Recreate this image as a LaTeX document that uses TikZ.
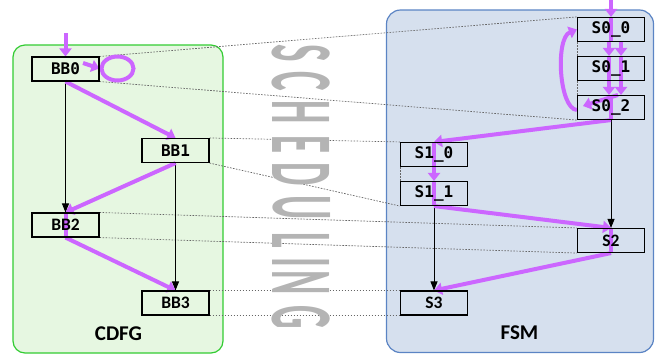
\documentclass[tikz,border=0pt]{standalone}
\usepackage{fontspec}
\setmainfont{Carlito}
\newfontfamily\monof{DejaVu Sans Mono}
\usetikzlibrary{arrows.meta,shapes.geometric}
\definecolor{mag}{HTML}{CC66FF}
\definecolor{cdfgfill}{HTML}{E6F7E1}
\definecolor{cdfgline}{HTML}{33CC33}
\definecolor{fsmfill}{HTML}{D6E0EE}
\definecolor{fsmline}{HTML}{5B84C4}
\definecolor{schedgray}{HTML}{B4B4B4}
\pgfdeclarelayer{bg}
\pgfdeclarelayer{mid}
\pgfsetlayers{bg,mid,main}
\begin{document}
\begin{tikzpicture}[x=1pt,y=-1pt,
  blk/.style={draw=black, line width=1.1pt, minimum width=67pt, minimum height=24pt, inner sep=0pt,
    font=\monof\bfseries\fontsize{16}{16}\selectfont},
  blks/.style={blk, font=\bfseries\fontsize{17.5}{17.5}\selectfont},
  ctl/.style={draw=black, line width=0.9pt, -{Triangle[length=9pt,width=7pt]}},
  flow/.style={draw=mag, line width=4pt, -{Triangle[length=8pt,width=12pt]}},
  flowline/.style={draw=mag, line width=4pt},
  map/.style={draw=black!60, line width=0.7pt, dash pattern=on 1.6pt off 1.4pt},
  letter/.style={text=schedgray, rotate=-90, inner sep=0pt, font=\bfseries\fontsize{88}{88}\selectfont},
  title/.style={font=\bfseries\fontsize{21}{21}\selectfont}]
\useasboundingbox (0,0) rectangle (660,360);

\begin{pgfonlayer}{bg}
\draw[fill=cdfgfill, draw=cdfgline, line width=1.2pt, rounded corners=12pt] (13,45) rectangle (223,353);
\draw[fill=fsmfill, draw=fsmline, line width=1.2pt, rounded corners=14pt] (386.5,10) rectangle (653.5,352.5);
\end{pgfonlayer}

% SCHEDULING
\node[letter] (l1) at (301.5,53) {\scalebox{0.42}[1]{S}};
\node[letter] (l2) at (301.5,81.5) {\scalebox{0.42}[1]{C}};
\node[letter] (l3) at (301.5,112) {\scalebox{0.42}[1]{H}};
\node[letter] (l4) at (301.5,144.5) {\scalebox{0.42}[1]{E}};
\node[letter] (l5) at (301.5,174) {\scalebox{0.42}[1]{D}};
\node[letter] (l6) at (301.5,207.5) {\scalebox{0.42}[1]{U}};
\node[letter] (l7) at (301.5,240.5) {\scalebox{0.42}[1]{L}};
\node[letter] (l8) at (301.5,262.5) {\scalebox{0.42}[1]{I}};
\node[letter] (l9) at (301.5,283) {\scalebox{0.42}[1]{N}};
\node[letter] (l10) at (301.5,317) {\scalebox{0.42}[1]{G}};

% nodes
\node[blk] (bb0) at (65.5,69) {BB0};
\node[blk] (bb1) at (175.5,150.5) {BB1};
\node[blks] (bb2) at (65.5,225) {BB2};
\node[blks] (bb3) at (175.5,303) {BB3};
\node[blk] (s00) at (611,29.5) {S0\_0};
\node[blk] (s01) at (611,68.5) {S0\_1};
\node[blk] (s02) at (611,107.5) {S0\_2};
\node[blk] (s10) at (434,154.5) {S1\_0};
\node[blk] (s11) at (434,193.5) {S1\_1};
\node[blks] (s2) at (611,240.5) {S2};
\node[blks] (s3) at (434,303) {S3};

\node[title] (cdfg) at (118.5,333.5) {CDFG};
\node[title] (fsm) at (519.5,333) {FSM};

\begin{pgfonlayer}{mid}
% mapping lines
\draw[map] (bb0.north east) -- (s00.north west);
\draw[map] (bb0.south east) -- (s02.south west);
\draw[map] (s00.south west) -- (s02.north west);
\draw[map] (bb1.north east) -- (s10.north west);
\draw[map] (bb1.south east) -- (s11.south west);
\draw[map] (s10.south west) -- (s11.north west);
\draw[map] (bb2.north east) -- (s2.north west);
\draw[map] (bb2.south east) -- (s2.south west);
\draw[map] (bb3.north east) -- (s3.north west);
\draw[map] (bb3.south east) -- (s3.south west);

% control edges
\draw[ctl] (bb0.south) -- (bb2.north);
\draw[ctl] (bb1.south) -- (bb3.north);
\draw[ctl] (s11.south) -- (s3.north);
\draw[ctl] (s02.south) -- (s2.north);

% CDFG flow
\coordinate (in1) at (65.5,33);
\draw[flow] (in1) -- (bb0.north);
\node[draw=mag, line width=4pt, ellipse, minimum width=32pt, minimum height=24pt, inner sep=0pt] (loop) at (117.5,68.5) {};
\coordinate (lp0) at (83,63);
\draw[flow] (lp0) -- (loop.west);
\draw[flow] (bb0.south) -- (bb1.north);
\draw[flow] (bb1.south) -- (bb2.north);
\draw[flowline] (bb2.north) -- (bb2.south);
\draw[flow] (bb2.south) -- (bb3.north);

% FSM flow
\coordinate (in2) at (611,0);
\draw[flow] (in2) -- (s00.north);
\draw[flowline] (s00.north) -- (s00.south);
\draw[flow] ([xshift=-2pt]s00.south) -- ([xshift=-2pt]s01.north);
\draw[flow] ([xshift=10pt]s00.south) -- ([xshift=10pt]s01.north);
\draw[flowline] ([xshift=-2pt]s01.north) -- ([xshift=-2pt]s01.south);
\draw[flowline] ([xshift=10pt]s01.north) -- ([xshift=10pt]s01.south);
\draw[flow] ([xshift=-2pt]s01.south) -- ([xshift=-2pt]s02.north);
\draw[flow] ([xshift=10pt]s01.south) -- ([xshift=10pt]s02.north);
\coordinate (dg) at (583,106);
\draw[flow] ([xshift=7pt]s02.north) -- (dg);
\coordinate (lb) at (577,110);
\draw[flow] (lb) .. controls (559,109) and (555,38) .. (s00.west);
\draw[flowline] (s02.north) -- (s02.south);
\draw[flow] (s02.south) -- (s10.north);
\draw[flowline] (s10.north) -- (s10.south);
\draw[flow] (s10.south) -- (s11.north);
\draw[flowline] (s11.north) -- (s11.south);
\draw[flow] (s11.south) -- (s2.north);
\draw[flowline] (s2.north) -- (s2.south);
\draw[flow] (s2.south) -- (s3.north);
\end{pgfonlayer}
\end{tikzpicture}
\end{document}
